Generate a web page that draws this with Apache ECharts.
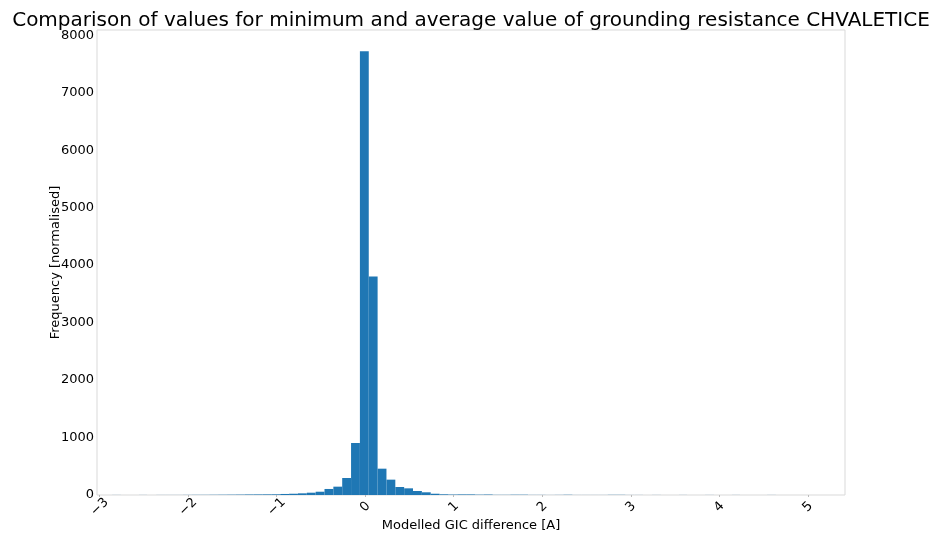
<!DOCTYPE html>
<html>
<head>
<meta charset="utf-8">
<script src="https://cdn.jsdelivr.net/npm/echarts@6/dist/echarts.min.js"></script>
<style>html,body{margin:0;padding:0;background:#fff}#c{width:942px;height:537px}</style>
</head>
<body>
<div id="c"></div>
<script>
// Histogram data
const binStart = -3.06;
const binWidth = 0.1;
const counts = [
  0, 0, 1, 0, 0, 1, 0, 1, 1, 1,
  2, 3, 3, 4, 5, 6, 7, 9, 10, 11,
  12, 18, 22, 29, 40, 57, 105, 145, 296, 905,
  7720, 3800, 458, 267, 139, 116, 70, 47, 22, 12,
  8, 10, 10, 6, 8, 3, 3, 5, 5, 2,
  2, 1, 2, 4, 1, 1, 1, 1, 3, 3,
  1, 1, 0, 1, 0, 0, 1, 0, 0, 1,
  0, 0, 1, 0, 0, 0, 1, 0, 0, 0
];
const xTicks = [-3, -2, -1, 0, 1, 2, 3, 4, 5];
const yTicks = [0, 1000, 2000, 3000, 4000, 5000, 6000, 7000, 8000];

const titleText = 'Comparison of values for minimum and average value of grounding resistance CHVALETICE';
const xName = 'Modelled GIC difference [A]';
const yName = 'Frequency [normalised]';

const bins = counts.map((c, i) => {
  const l = +(binStart + i * binWidth).toFixed(4);
  return [l, +(l + binWidth).toFixed(4), c];
});

const chart = echarts.init(document.getElementById('c'), null, {renderer: 'canvas'});
const font = 'DejaVu Sans';
chart.setOption({
  animation: false,
  textStyle: {fontFamily: font},
  title: {
    text: titleText, left: 'center', top: 6,
    textStyle: {fontFamily: font, fontSize: 20, fontWeight: 'normal', color: '#000'}
  },
  grid: {left: 97, right: 97, top: 30, bottom: 42, show: true, borderColor: '#d9d9d9', borderWidth: 1,
         containLabel: false, outerBoundsMode: 'none'},
  xAxis: {
    type: 'value', min: -3.03, max: 5.42,
    name: xName, nameLocation: 'middle', nameGap: 24, nameMoveOverlap: false,
    nameTextStyle: {fontFamily: font, fontSize: 13, color: '#000'},
    axisLine: {show: false}, splitLine: {show: false},
    axisTick: {show: true, customValues: xTicks, length: 2, lineStyle: {color: '#bbb'}},
    axisLabel: {
      customValues: xTicks, rotate: 45, margin: 12,
      align: 'center', verticalAlign: 'middle',
      fontFamily: font, fontSize: 13, color: '#000',
      formatter: v => String(v).replace('-', '\u2212')
    }
  },
  yAxis: {
    type: 'value', min: 0, max: 8090,
    name: yName, nameLocation: 'middle', nameGap: 35, nameMoveOverlap: false,
    nameTextStyle: {fontFamily: font, fontSize: 13, color: '#000'},
    axisLine: {show: false}, splitLine: {show: false},
    axisTick: {show: false},
    axisLabel: {
      customValues: yTicks, margin: 3,
      fontFamily: font, fontSize: 13, color: '#000',
      formatter: v => String(v)
    }
  },
  series: [{
    type: 'custom',
    clip: true,
    data: bins,
    encode: {x: [0, 1], y: 2},
    renderItem: function (params, api) {
      const p0 = api.coord([api.value(0), 0]);
      const p1 = api.coord([api.value(1), api.value(2)]);
      const rect = echarts.graphic.clipRectByRect({
        x: p0[0], y: p1[1], width: p1[0] - p0[0], height: p0[1] - p1[1]
      }, {
        x: params.coordSys.x, y: params.coordSys.y,
        width: params.coordSys.width, height: params.coordSys.height
      });
      return rect && {type: 'rect', shape: rect, style: {fill: '#1f77b4'}};
    }
  }]
});
</script>
</body>
</html>
